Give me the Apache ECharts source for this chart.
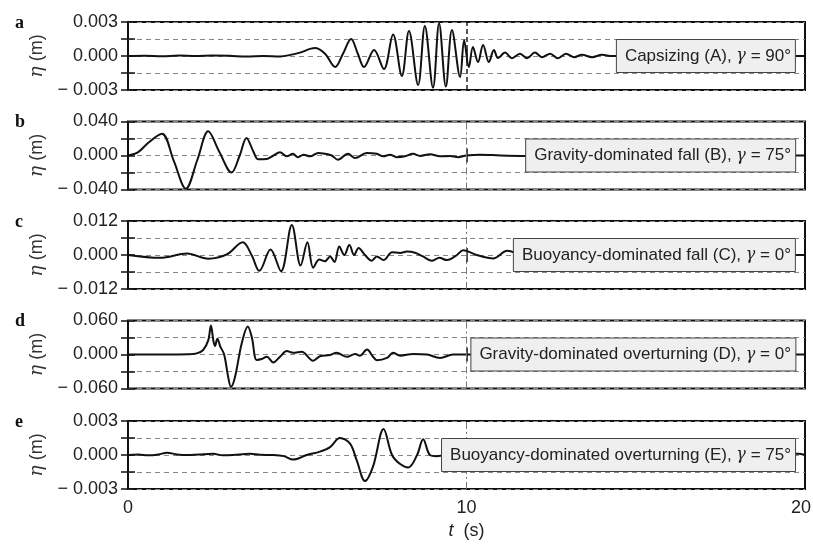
<!DOCTYPE html>
<html><head><meta charset="utf-8">
<script src="https://cdn.jsdelivr.net/npm/echarts@6.0.0/dist/echarts.min.js"></script>
<style>html,body{margin:0;padding:0;background:#fff}#c{width:813px;height:544px}</style>
</head><body><div id="c"></div>
<script>
// ---- data ----
const xTickValues = [0, 10, 20];

const tA   = [0, 0.5, 1.0, 1.5, 2.0, 2.5, 3.0, 3.5, 4.0, 4.5, 4.8, 5.08, 5.52, 5.82, 6.12, 6.35, 6.59, 6.79, 6.97, 7.27, 7.56, 7.83, 8.09, 8.30, 8.57, 8.77, 9.01, 9.19, 9.39, 9.57, 9.81, 9.93, 10.07, 10.19, 10.34, 10.49, 10.66, 10.81, 10.93, 11.14, 11.34, 11.58, 11.79, 12.02, 12.23, 12.47, 12.70, 12.94, 13.18, 13.41, 13.71, 14.0, 14.3, 15, 16, 17, 18, 19, 20];
const etaA = [0, 0.00003, -0.00003, 0.00004, 0, 0.00005, 0.00002, -0.00005, 0, -0.00004, 0.0001, 0.0003, 0.0007, 0.0002, -0.00097, 0.0002, 0.0015, 0.0002, -0.00097, 0.00053, -0.00115, 0.0019, -0.00176, 0.0022, -0.00256, 0.00265, -0.0028, 0.0029, -0.0027, 0.0023, -0.00185, 0.0014, -0.00097, 0.0008, -0.00053, 0.00097, -0.00053, 0.00053, -0.00018, 0.0003, -0.0002, 0.0002, -0.0002, 0.0003, -0.0001, 0.0002, -0.0002, 0.0002, -0.0001, 0.0001, -0.0001, 0.0001, 0, 0, 0, 0, 0, 0, 0];

const tB   = [0, 0.3, 0.6, 1.0, 1.35, 1.71, 2.05, 2.37, 2.7, 3.06, 3.3, 3.5, 3.7, 3.85, 4.1, 4.3, 4.49, 4.69, 4.87, 5.02, 5.18, 5.38, 5.62, 5.82, 6.02, 6.2, 6.5, 6.71, 7.05, 7.35, 7.54, 7.74, 7.94, 8.18, 8.42, 8.63, 8.92, 9.22, 9.51, 9.75, 10.0, 10.4, 11.0, 11.6, 12.5, 14, 16, 18, 20];
const etaB = [0, 0.004, 0.015, 0.0257, -0.006, -0.039, -0.005, 0.0284, 0.004, -0.02, 0.0, 0.0207, 0.005, -0.0045, -0.004, 0.0, 0.0037, -0.001, 0.002, -0.002, 0.001, -0.001, 0.003, 0.002, 0.0, -0.005, 0.002, -0.003, 0.003, 0.002, -0.001, 0.001, -0.002, -0.001, 0.002, -0.0005, 0.0015, -0.001, -0.0005, -0.002, 0.0, 0.001, 0.0, -0.0005, 0, 0, 0, 0, 0];

const tC   = [0, 0.95, 1.74, 2.37, 2.92, 3.39, 3.65, 3.88, 4.21, 4.52, 4.84, 5.1, 5.3, 5.47, 5.65, 5.82, 5.97, 6.1, 6.24, 6.39, 6.54, 6.68, 6.81, 7.0, 7.2, 7.35, 7.55, 7.8, 8.04, 8.24, 8.48, 8.7, 8.97, 9.2, 9.42, 9.72, 9.9, 10.3, 10.8, 11.2, 11.7, 12.5, 14, 16, 18, 20];
const etaC = [0, -0.001, 0.0005, -0.0013, 0.0002, 0.0045, 0.0, -0.0056, 0.0019, -0.0057, 0.0106, -0.0037, 0.0045, -0.0045, -0.0016, -0.0022, -0.0005, -0.0025, 0.003, 0.0, 0.0035, 0.0, 0.0025, 0.0, -0.002, -0.0005, -0.0018, 0.001, 0.0007, 0.0012, 0.0008, -0.0004, -0.002, -0.001, -0.0018, 0.0, 0.0017, 0.0, -0.0012, 0.0015, 0.0, 0.0005, 0, 0, 0, 0];

const tD   = [0, 1.0, 1.8, 2.03, 2.22, 2.37, 2.45, 2.52, 2.57, 2.64, 2.72, 2.84, 2.96, 3.04, 3.16, 3.36, 3.54, 3.66, 3.8, 3.95, 4.1, 4.29, 4.49, 4.69, 4.88, 5.13, 5.47, 5.67, 5.97, 6.16, 6.47, 6.71, 6.85, 7.06, 7.24, 7.35, 7.65, 7.83, 8.04, 8.42, 8.83, 9.22, 9.6, 10.0, 11, 12, 14, 16, 18, 20];
const etaD = [0, 0, 0.0005, 0.002, 0.008, 0.025, 0.051, 0.025, 0.015, 0.028, 0.015, 0.0, -0.04, -0.057, -0.04, 0.02, 0.0496, 0.03, -0.0095, -0.008, -0.004, -0.014, -0.004, 0.006, 0.003, 0.005, -0.011, -0.003, -0.001, 0.003, -0.004, 0.001, -0.002, 0.009, -0.004, -0.01, -0.006, 0.003, -0.002, 0.001, 0.0, -0.006, 0.0, 0.0, 0, 0, 0, 0, 0, 0];

const tE   = [0, 0.3, 0.6, 0.9, 1.15, 1.45, 1.74, 2.1, 2.52, 2.8, 3.1, 3.6, 3.9, 4.29, 4.6, 4.88, 5.28, 5.67, 5.97, 6.26, 6.56, 6.76, 7.0, 7.24, 7.55, 7.8, 8.04, 8.28, 8.54, 8.72, 8.92, 9.12, 9.42, 10, 11, 12, 14, 16, 18, 19.8, 20];
const etaE = [0, 0.00005, -0.00003, 0.00005, 0.0002, 0.00005, 0.0, 0.00005, 0.0001, -0.00003, 0.0, 0.0001, 0.00002, 0.0, -0.0001, -0.0004, 0.0, 0.0003, 0.0007, 0.0015, 0.001, -0.0005, -0.0023, -0.001, 0.0023, 0.0, -0.0008, -0.0011, 0.0, 0.0014, 0.0, -0.0001, 0.0, 0, 0, 0, 0, 0, 0, 0.0001, 0];

const yLimits = [0.003, 0.04, 0.012, 0.06, 0.003];
const panelLetters = ['a', 'b', 'c', 'd', 'e'];
const caseLabels = [
  'Capsizing (A), {g|γ} = 90°',
  'Gravity-dominated fall (B), {g|γ} = 75°',
  'Buoyancy-dominated fall (C), {g|γ} = 0°',
  'Gravity-dominated overturning (D), {g|γ} = 0°',
  'Buoyancy-dominated overturning (E), {g|γ} = 75°'
];
const seriesT = [tA, tB, tC, tD, tE];
const seriesEta = [etaA, etaB, etaC, etaD, etaE];

// ---- layout ----
const gridTops = [22, 121.5, 221, 320.5, 421];
const gridH = 68;
const font = '"Liberation Sans", Arial, sans-serif';

const chart = echarts.init(document.getElementById('c'), null, {renderer: 'canvas'});
const grid = [], xAxis = [], yAxis = [], series = [], title = [], graphic = [];

for (let i = 0; i < 5; i++) {
  const M = yLimits[i];
  const last = i === 4;
  grid.push({left: 128, right: 8, top: gridTops[i], height: gridH, show: true, containLabel: false,
    outerBoundsMode: 'none',
    borderColor: '#111', borderWidth: 2, backgroundColor: 'transparent'});
  const tickStyle = {show: true, inside: true, length: 7, lineStyle: {color: '#111', width: 1.5}};
  xAxis.push({type: 'value', gridIndex: i, min: xTickValues[0], max: xTickValues[2], interval: 10,
    position: 'bottom', axisLine: {show: false}, axisTick: tickStyle, splitLine: {show: false},
    axisLabel: {show: last, color: '#222', fontSize: 18, fontFamily: font, margin: 10,
      formatter: (v) => v === xTickValues[2] ? '{r|' + v + '}' : String(v),
      rich: {r: {fontSize: 18, fontFamily: font, color: '#222', padding: [0, 8, 0, 0]}}},
    name: last ? '{i|t}  (s)' : '', nameLocation: 'middle', nameGap: 33,
    nameTextStyle: {color: '#222', fontSize: 18, fontFamily: font,
      rich: {i: {fontStyle: 'italic', fontSize: 18, fontFamily: font, color: '#222'}}}});
  xAxis.push({type: 'value', gridIndex: i, min: 0, max: 20, interval: 10, position: 'top',
    axisLine: {show: false}, axisTick: tickStyle, axisLabel: {show: false}, splitLine: {show: false}});
  const fmt = (v) => {
    const e = M * 1e-6;
    if (Math.abs(v - M) < e) return M.toFixed(3);
    if (Math.abs(v) < e) return '0.000';
    if (Math.abs(v + M) < e) return '− ' + M.toFixed(3);
    return '';
  };
  yAxis.push({type: 'value', gridIndex: i, min: -M, max: M, interval: M / 2, position: 'left',
    axisLine: {show: false}, axisTick: tickStyle,
    axisLabel: {formatter: fmt, color: '#222', fontSize: 18, fontFamily: font, margin: 10},
    splitLine: {show: true, lineStyle: {color: '#888', width: 1, type: [5, 4]}},
    name: '{i|η} (m)', nameLocation: 'middle', nameGap: 72, nameRotate: 90,
    nameTextStyle: {color: '#333', fontSize: 18, fontFamily: font,
      rich: {i: {fontStyle: 'italic', fontSize: 19, fontFamily: '"DejaVu Serif", serif', color: '#333'}}}});
  yAxis.push({type: 'value', gridIndex: i, min: -M, max: M, interval: M / 2, position: 'right',
    axisLine: {show: false}, axisTick: tickStyle, axisLabel: {show: false}, splitLine: {show: false}});
  series.push({type: 'line', xAxisIndex: 2 * i, yAxisIndex: 2 * i, showSymbol: false, smooth: 0.35,
    data: seriesT[i].map((t, k) => [t, seriesEta[i][k]]),
    lineStyle: {color: '#111', width: 2}, silent: true, animation: false, z: 3,
    markLine: {silent: true, symbol: 'none', label: {show: false},
      lineStyle: i === 0 ? {color: '#222', width: 1.5, type: [5, 3]} : {color: '#777', width: 1, type: [7, 3, 2, 3]},
      data: [{xAxis: 10}]}});
  title.push({text: caseLabels[i], right: 17, top: gridTops[i] + gridH / 4, padding: [7, 5, 7, 9],
    backgroundColor: '#efefef', borderColor: '#444', borderWidth: 1, z: 10,
    textStyle: {fontSize: 17, fontWeight: 'normal', fontFamily: font, color: '#222', lineHeight: 20,
      rich: {g: {fontStyle: 'italic', fontFamily: '"DejaVu Serif", serif', fontSize: 16, color: '#222', lineHeight: 20}}}});
  graphic.push({type: 'text', left: 15, top: gridTops[i] - 8,
    style: {text: panelLetters[i], font: 'bold 18px "Liberation Serif", serif', fill: '#111'}});
}

chart.setOption({animation: false, backgroundColor: '#fff', grid, xAxis, yAxis, series, title, graphic});
</script></body></html>
